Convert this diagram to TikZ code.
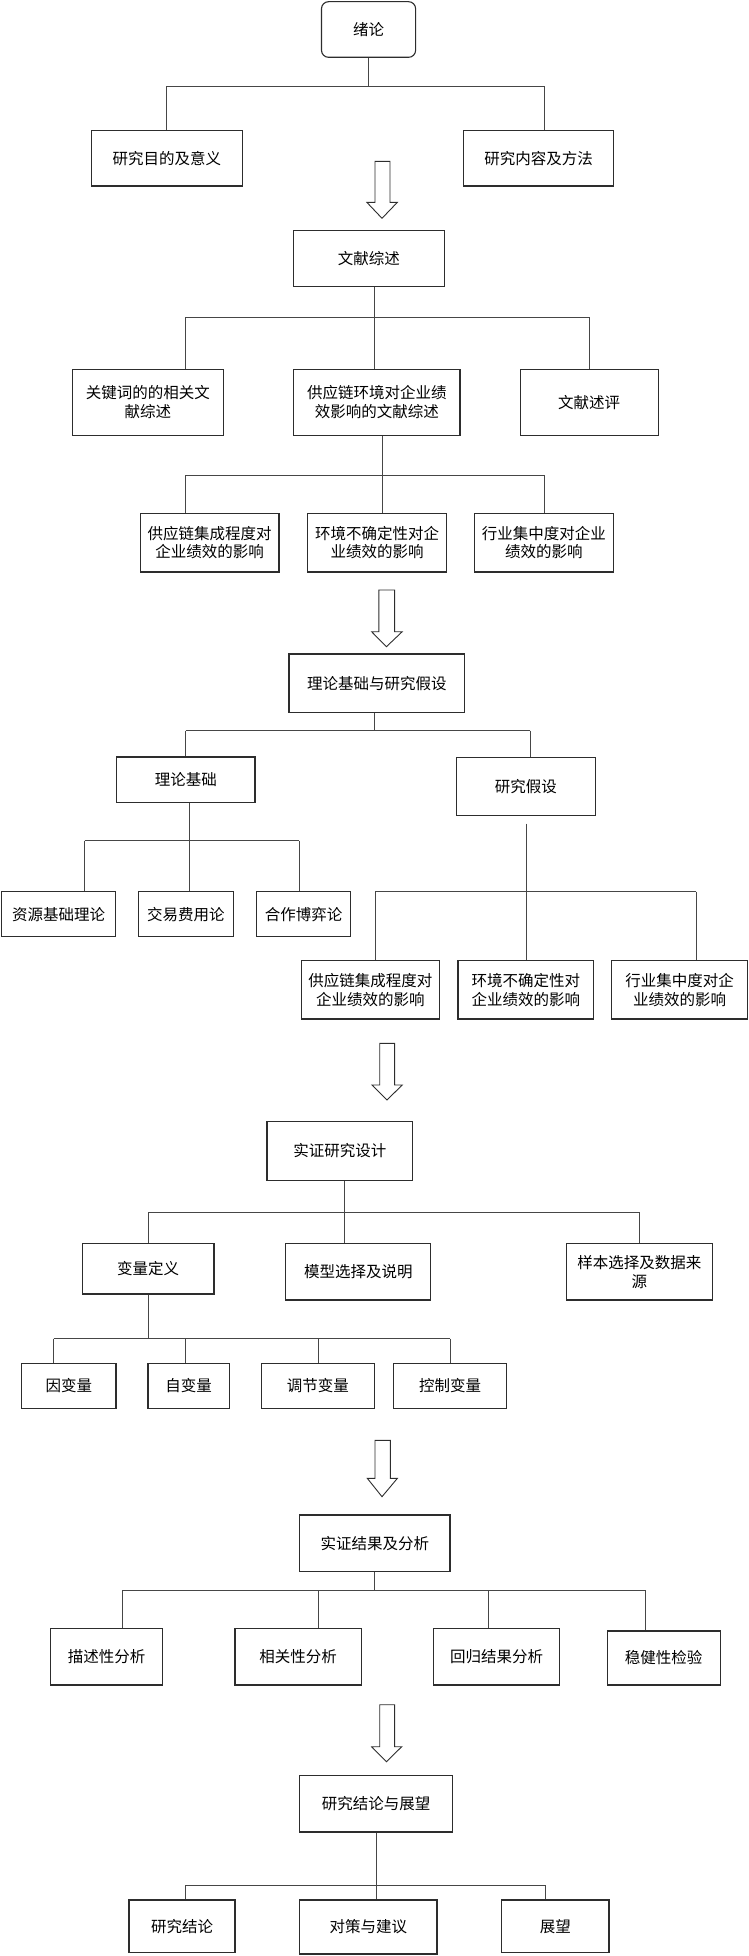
\documentclass[tikz,border=0pt]{standalone}
\usepackage{fontspec}
\newfontfamily\cjk{Noto Sans CJK SC}
\definecolor{linec}{RGB}{70,70,70}
\definecolor{boxc}{RGB}{45,45,45}
\tikzset{
  box/.style={draw=boxc, line width=1.1pt, fill=white, inner sep=0pt, align=center,
    font=\cjk\fontsize{15.5}{18.5}\selectfont},
  conn/.style={draw=linec, line width=0.9pt},
  blockarrow/.style={draw=boxc, line width=0.9pt, fill=white, line join=miter}
}
\newcommand{\bx}[7][]{\node[box,#1, minimum width={#4-#2}, minimum height={#5-#3}] (#6) at ({(#2+#4)/2},{(#3+#5)/2}) {#7};}
\newcommand{\branchto}[6]{%
  \coordinate (#1-j) at (#2,#3);
  \draw[conn] (#1.south -| #1-j) -- (#1-j);
  \foreach \c/\xx in {#4} {
    \coordinate (\c-j) at (\xx,#3);
    \draw[conn] (\c-j) -- (\c-j |- \c.north);
  }
  \draw[conn] (#5-j) -- (#6-j);
}
\newcommand{\barrow}[8]{% a b top head tip xl xr c
  \draw[blockarrow] (#1,#3) -- (#2,#3) -- (#2,#4) -- (#7,#4) -- (#8,#5) -- (#6,#4) -- (#1,#4) -- cycle;}
\begin{document}
\begin{tikzpicture}[x=1pt,y=-1pt]
\useasboundingbox (0,0) rectangle (749,1956);

% section 1
\bx[rounded corners=7pt]{321.5}{1.7}{415.6}{57.3}{n1}{绪论}
\bx{91.7}{130.7}{242.2}{186}{a1}{研究目的及意义}
\bx{463.3}{130.7}{613.8}{186}{a2}{研究内容及方法}
\branchto{n1}{368.8}{86.3}{a1/166.7,a2/544.5}{a1}{a2}

\barrow{375}{390}{161.3}{202.3}{218.3}{366.8}{397.4}{382}

% section 2
\bx{293.3}{230.7}{444.2}{286.3}{n2}{文献综述}
\bx{72.6}{369.3}{223.1}{435.3}{b1}{关键词的的相关文\\献综述}
\bx{293.8}{369.3}{460}{435.3}{b2}{供应链环境对企业绩\\效影响的文献综述}
\bx{520.2}{369.3}{658.2}{435.3}{b3}{文献述评}
\branchto{n2}{374.5}{317.3}{b1/185.3,b2/374.5,b3/589}{b1}{b3}

\bx{140.4}{513.3}{279}{572}{c1}{供应链集成程度对\\企业绩效的影响}
\bx{307.6}{513.3}{446.6}{572}{c2}{环境不确定性对企\\业绩效的影响}
\bx{474.3}{513.3}{613.3}{572}{c3}{行业集中度对企业\\绩效的影响}
\branchto{b2}{382}{475.3}{c1/185.3,c2/382,c3/544}{c1}{c3}

\barrow{378.8}{394.6}{590}{631.7}{646.7}{371.6}{402.2}{386.4}

% section 3
\bx{289}{654}{464.8}{712.7}{n3}{理论基础与研究假设}
\bx{116.5}{757}{255}{802.7}{d1}{理论基础}
\bx{456.6}{757.3}{595.2}{815.7}{d2}{研究假设}
\branchto{n3}{374.5}{730.7}{d1/185.8,d2/530.2}{d1}{d2}

\bx{1.9}{891.7}{115.6}{936.7}{e1}{资源基础理论}
\bx{138.5}{891.7}{233.1}{936.7}{e2}{交易费用论}
\bx{256.5}{891.7}{350.6}{936.7}{e3}{合作博弈论}
\branchto{d1}{189.6}{840.7}{e1/84.5,e2/189.6,e3/299}{e1}{e3}

\bx{301.4}{960.7}{439.5}{1019}{f1}{供应链集成程度对\\企业绩效的影响}
\bx{458}{960.7}{593.7}{1019}{f2}{环境不确定性对\\企业绩效的影响}
\bx{611.9}{960.7}{747.5}{1019}{f3}{行业集中度对企\\业绩效的影响}
\coordinate (d2-j) at (526,891.7);
\draw[conn] ([yshift=-7.3pt]d2.south -| d2-j) -- (d2-j);
\foreach \c/\xx in {f1/375,f2/526,f3/696} {
  \coordinate (\c-j) at (\xx,891.7);
  \draw[conn] (\c-j) -- (\c-j |- \c.north);
}
\draw[conn] (f1-j) -- (f3-j);

\barrow{379.7}{394.6}{1043.3}{1085}{1100}{372}{402.2}{387}

% section 4
\bx{267}{1121.7}{412.7}{1180.3}{n4}{实证研究设计}
\bx{82.2}{1243.7}{214}{1294}{g1}{变量定义}
\bx{285.6}{1243.7}{430.9}{1300}{g2}{模型选择及说明}
\bx{566.5}{1243.7}{712.2}{1300}{g3}{样本选择及数据来\\源}
\branchto{n4}{344.4}{1212.7}{g1/148,g2/344.4,g3/639.6}{g1}{g3}

\bx{21.5}{1363.3}{116}{1408.3}{h1}{因变量}
\bx{148}{1363.3}{229.3}{1408.3}{h2}{自变量}
\bx{261.3}{1363.3}{374.5}{1408.3}{h3}{调节变量}
\bx{393.6}{1363.3}{506.8}{1408.3}{h4}{控制变量}
\branchto{g1}{148}{1338.7}{h1/53.5,h2/185.3,h3/318.1,h4/450}{h1}{h4}

\barrow{375}{390.3}{1440.3}{1478.3}{1496.7}{367.3}{397.4}{382}

% section 5
\bx{299.5}{1515}{450}{1571.7}{n5}{实证结果及分析}
\bx{50.2}{1628.3}{162.9}{1685}{i1}{描述性分析}
\bx{235}{1628.3}{361.1}{1685}{i2}{相关性分析}
\bx{433.2}{1628.3}{559.8}{1685}{i3}{回归结果分析}
\bx{607.1}{1631}{720.3}{1685}{i4}{稳健性检验}
\branchto{n5}{374.5}{1590.7}{i1/122.3,i2/318.1,i3/488.2,i4/645.8}{i1}{i4}

\barrow{379.7}{394.6}{1704.7}{1746.7}{1761.7}{371.6}{401.7}{386.4}

% section 6
\bx{299.5}{1775.3}{452.8}{1832}{n6}{研究结论与展望}
\bx{129}{1900}{235}{1952.7}{k1}{研究结论}
\bx{299.5}{1900}{437}{1954}{k2}{对策与建议}
\bx{501.5}{1900}{609}{1952.7}{k3}{展望}
\branchto{n6}{376.4}{1885.3}{k1/185.3,k2/376.4,k3/545}{k1}{k3}

\end{tikzpicture}
\end{document}
